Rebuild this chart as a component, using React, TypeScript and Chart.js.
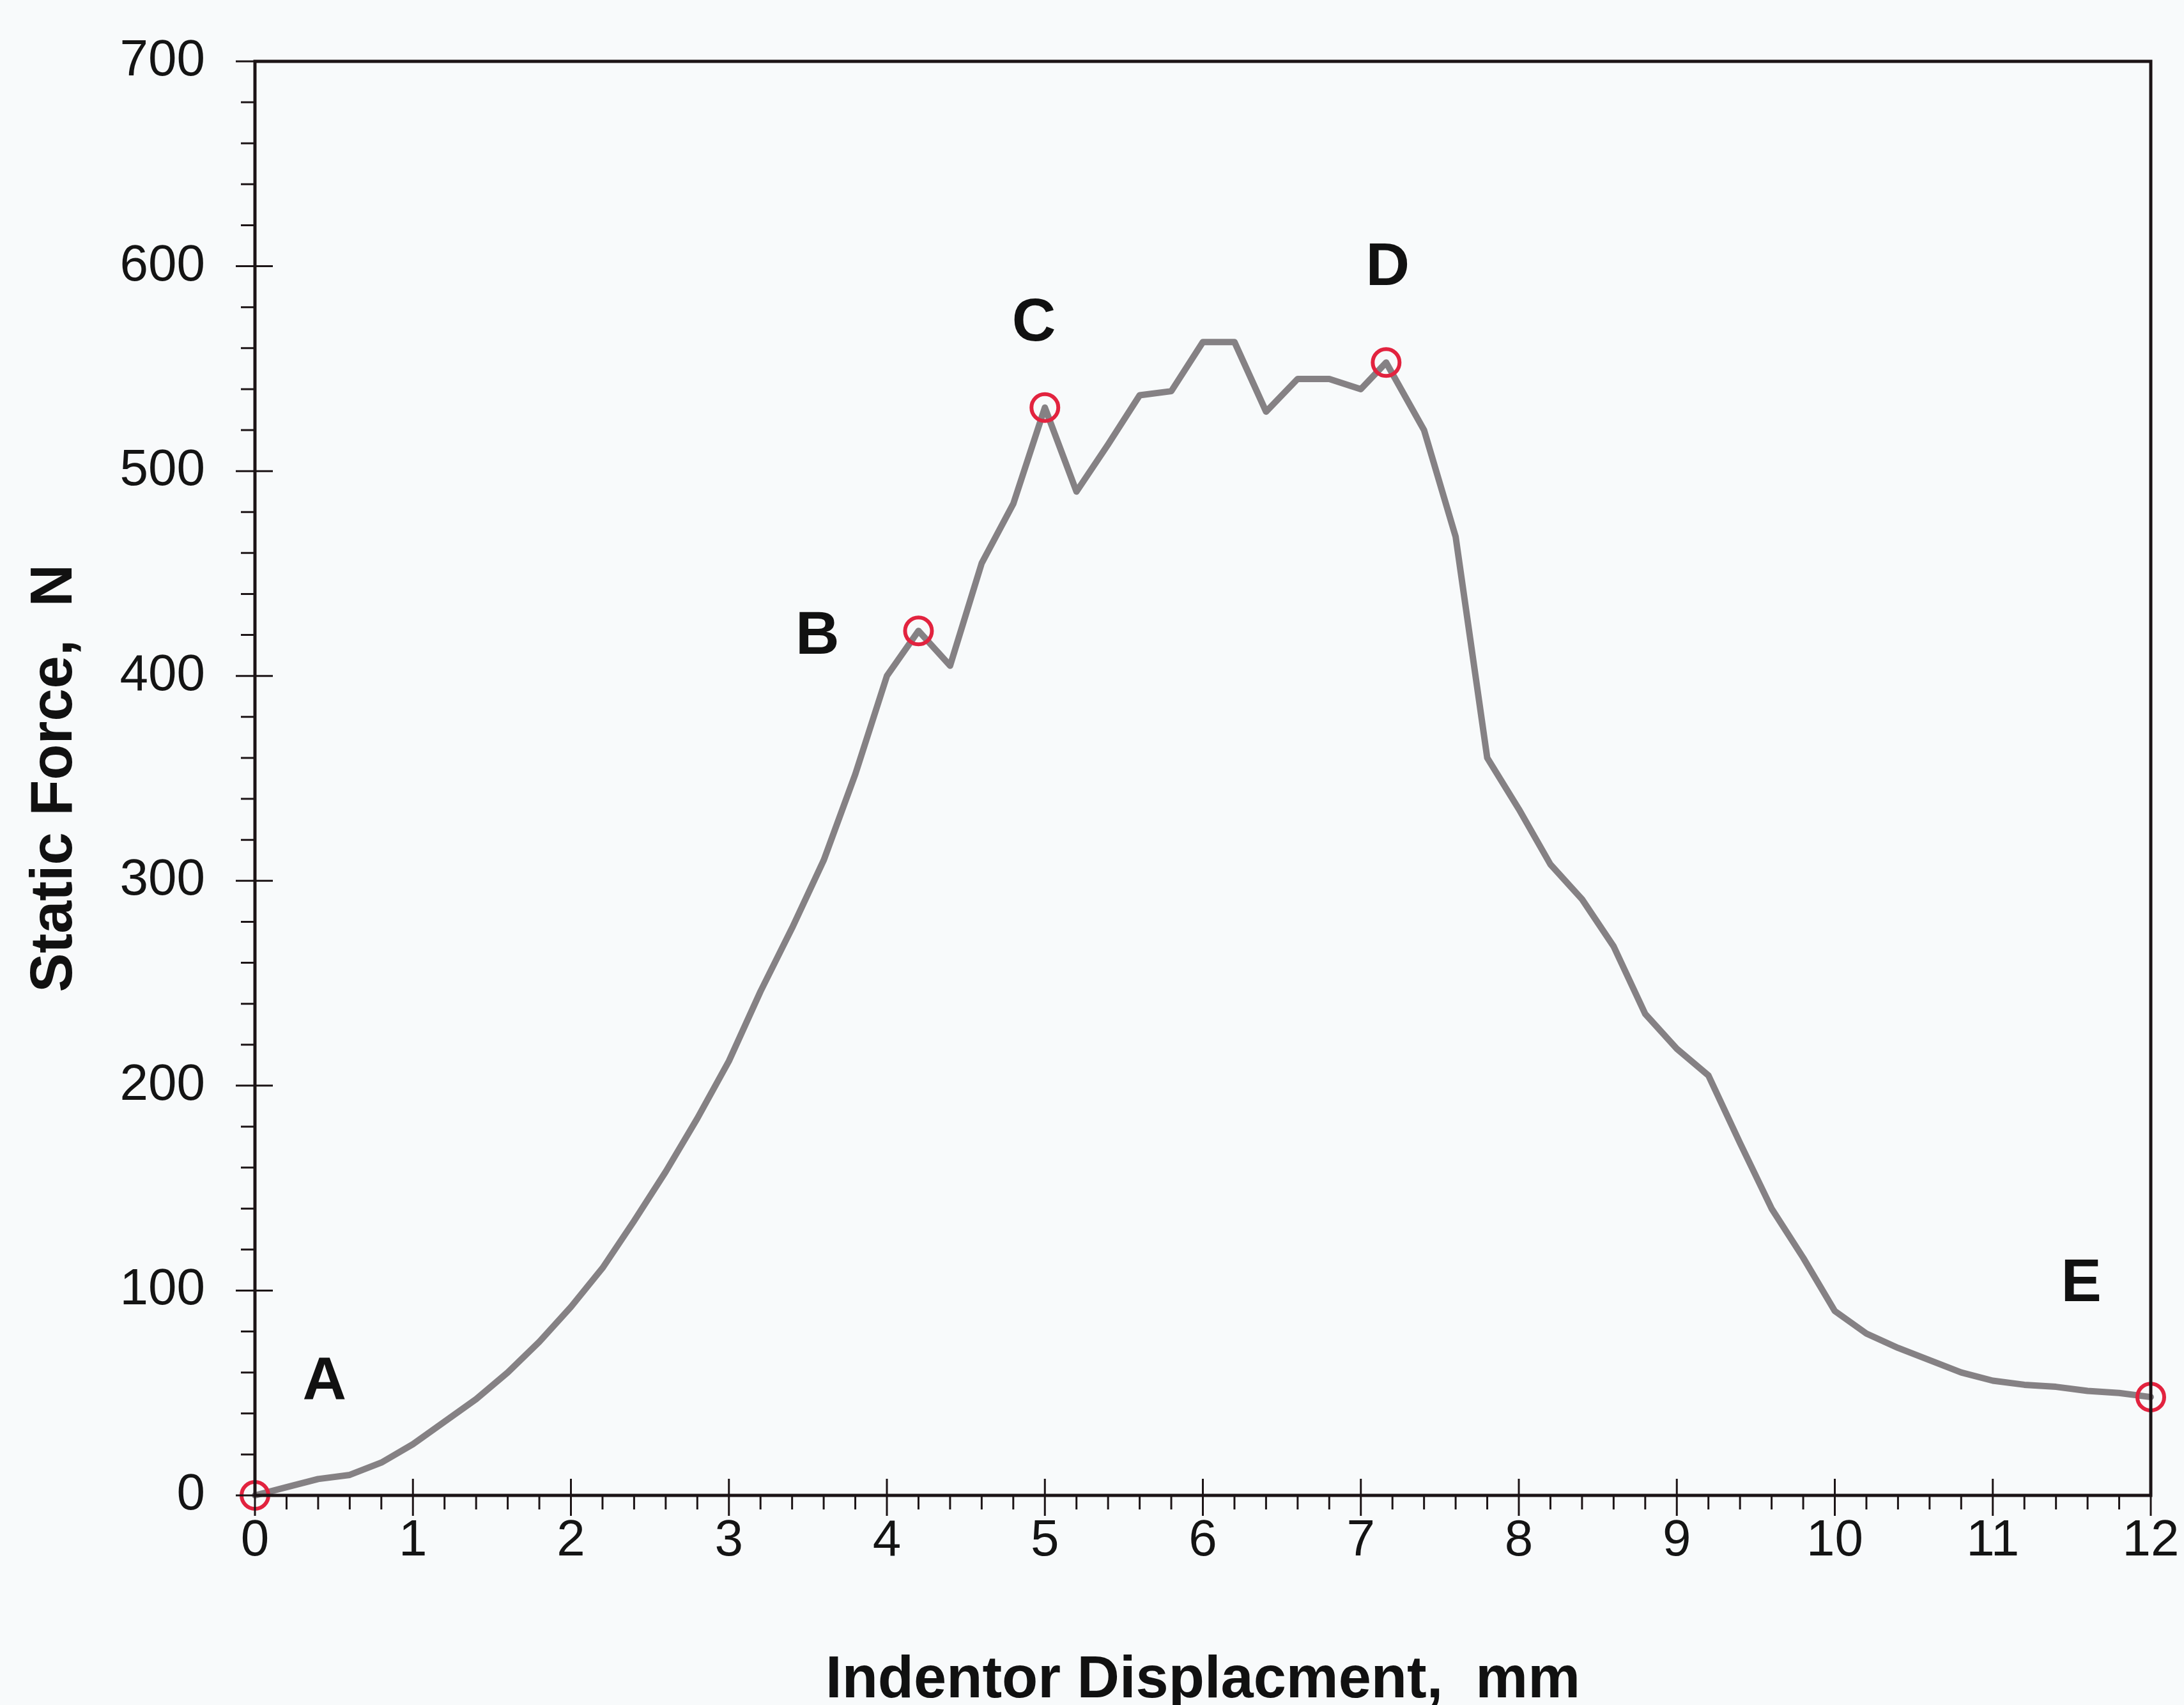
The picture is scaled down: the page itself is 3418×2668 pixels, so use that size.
import React, { useEffect, useRef } from "react";
import { Chart, registerables } from "chart.js";

Chart.register(...registerables);

// Indentor displacement (mm)
const displacement = [
  0, 0.2, 0.4, 0.6, 0.8, 1.0, 1.2, 1.4, 1.6, 1.8,
  2.0, 2.2, 2.4, 2.6, 2.8, 3.0, 3.2, 3.4, 3.6, 3.8,
  4.0, 4.2, 4.4, 4.6, 4.8, 5.0, 5.2, 5.4, 5.6, 5.8,
  6.0, 6.2, 6.4, 6.6, 6.8, 7.0, 7.16, 7.4, 7.6, 7.8,
  8.0, 8.2, 8.4, 8.6, 8.8, 9.0, 9.2, 9.4, 9.6, 9.8,
  10.0, 10.2, 10.4, 10.6, 10.8, 11.0, 11.2, 11.4, 11.6, 11.8, 12.0,
];
// Static force (N)
const staticForce = [
  0, 4, 8, 10, 16, 25, 36, 47, 60, 75,
  92, 111, 134, 158, 184, 212, 246, 277, 310, 352,
  400, 422, 405, 455, 484, 531, 490, 513, 537, 539,
  563, 563, 529, 545, 545, 540, 553, 520, 468, 360,
  335, 308, 291, 268, 235, 218, 205, 172, 140, 116,
  90, 79, 72, 66, 60, 56, 54, 53, 51, 50, 48,
];

// Marked points A–E
const markerNames = ["A", "B", "C", "D", "E"];
const markerX = [0, 4.2, 5.0, 7.16, 12];
const markerY = [0, 422, 531, 553, 48];
// Where the letters sit (data units)
const letterX = [0.44, 3.56, 4.93, 7.17, 11.56];
const letterY = [55, 419, 572, 599, 103];

const xTickMin = 0;
const xTickMax = 12;
const yTickMin = 0;
const yTickMax = 700;

const FONT = '"Liberation Sans", Arial, sans-serif';
const INK = "#1c1416";

const framePlugin = {
  id: "frame",
  afterDraw(chart: any) {
    const ctx = chart.ctx;
    const ax = chart.scales.x;
    const ay = chart.scales.y;
    const { left, right, top, bottom } = chart.chartArea;
    ctx.save();
    ctx.strokeStyle = INK;
    ctx.lineWidth = 3;
    ctx.beginPath();
    for (let v = yTickMin; v <= yTickMax; v += 20) {
      const y = ay.getPixelForValue(v);
      const major = v % 100 === 0;
      ctx.moveTo(left - (major ? 30 : 22), y);
      ctx.lineTo(left + (major ? 28 : 0), y);
    }
    for (let i = 0; i <= (xTickMax - xTickMin) * 5; i++) {
      const v = xTickMin + i * 0.2;
      const x = ax.getPixelForValue(v);
      const major = i % 5 === 0;
      ctx.moveTo(x, bottom - (major ? 26 : 0));
      ctx.lineTo(x, bottom + (major ? 32 : 22));
    }
    ctx.stroke();
    ctx.lineWidth = 5;
    ctx.strokeRect(left, top, right - left, bottom - top);

    ctx.fillStyle = "#111111";
    ctx.font = `bold 95px ${FONT}`;
    ctx.textAlign = "center";
    ctx.textBaseline = "middle";
    markerNames.forEach((name, i) => {
      ctx.fillText(name, ax.getPixelForValue(letterX[i]), ay.getPixelForValue(letterY[i]));
    });
    ctx.restore();
  },
};

const hiddenGrid = (len: number) => ({
  display: true,
  drawOnChartArea: false,
  drawTicks: true,
  tickLength: len,
  color: "rgba(0,0,0,0)",
  tickColor: "rgba(0,0,0,0)",
});

export default function App() {
  const ref = useRef<HTMLCanvasElement | null>(null);

  useEffect(() => {
    if (!ref.current) return;
    const chart = new Chart(ref.current, {
      type: "line",
      data: {
        datasets: [
          {
            type: "scatter",
            label: "Marked points",
            data: markerX.map((x, i) => ({ x, y: markerY[i] })),
            showLine: false,
            pointStyle: "circle",
            pointRadius: 21,
            pointBorderWidth: 6,
            pointBorderColor: "#e2233f",
            pointBackgroundColor: "rgba(0,0,0,0)",
            clip: false,
            order: 0,
          } as any,
          {
            label: "Static Force",
            data: displacement.map((x, i) => ({ x, y: staticForce[i] })),
            borderColor: "#858184",
            borderWidth: 10,
            borderJoinStyle: "round",
            borderCapStyle: "round",
            pointRadius: 0,
            tension: 0,
            fill: false,
            clip: false,
            order: 1,
          } as any,
        ],
      },
      options: {
        responsive: false,
        animation: false,
        devicePixelRatio: 1,
        layout: { padding: { left: 0, top: 96, right: 52, bottom: 0 } },
        plugins: {
          legend: { display: false },
          tooltip: { enabled: false },
          title: { display: false },
        },
        scales: {
          x: {
            type: "linear",
            min: xTickMin,
            max: xTickMax,
            grid: hiddenGrid(24),
            border: { display: false },
            ticks: {
              stepSize: 1,
              padding: 0,
              color: "#141414",
              font: { family: FONT, size: 80 },
              maxRotation: 0,
              autoSkip: false,
            },
            title: {
              display: true,
              text: "Indentor Displacment,  mm",
              color: "#111111",
              font: { family: FONT, size: 92, weight: "bold" },
              padding: { top: 0, bottom: -18 },
            },
            afterFit: (scale: any) => {
              scale.height = 328;
            },
          },
          y: {
            type: "linear",
            min: yTickMin,
            max: yTickMax,
            grid: hiddenGrid(78),
            border: { display: false },
            ticks: {
              stepSize: 100,
              padding: 0,
              color: "#141414",
              font: { family: FONT, size: 80 },
            },
            title: {
              display: true,
              text: "Static Force,  N",
              color: "#111111",
              font: { family: FONT, size: 92, weight: "bold" },
              padding: { top: 31, bottom: 0 },
            },
            afterFit: (scale: any) => {
              scale.width = 399;
            },
          },
        },
      } as any,
      plugins: [framePlugin],
    });
    return () => chart.destroy();
  }, []);

  return (
    <div
      style={{
        position: "fixed",
        left: 0,
        top: 0,
        width: 3418,
        height: 2668,
        background: "#f8fafb",
      }}
    >
      <canvas ref={ref} width={3418} height={2668} style={{ width: 3418, height: 2668, display: "block" }} />
    </div>
  );
}
